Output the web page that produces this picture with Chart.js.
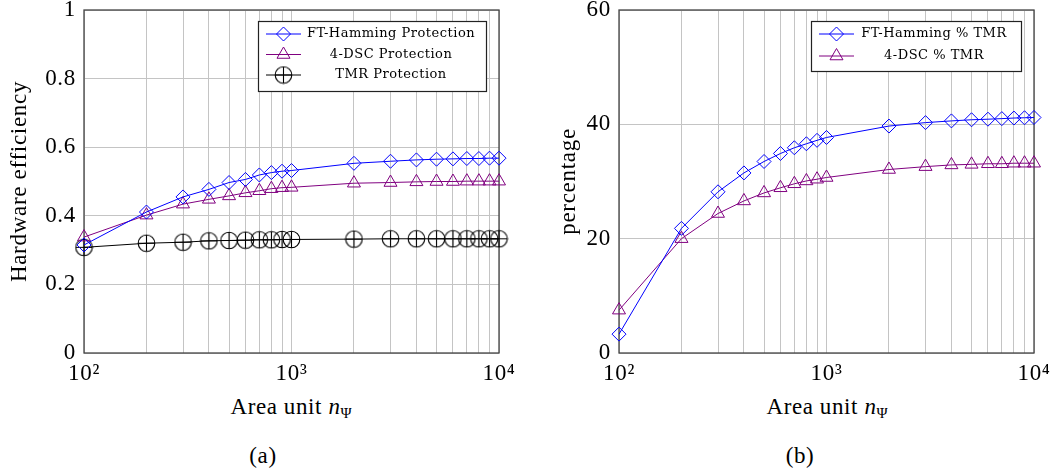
<!DOCTYPE html>
<html>
<head>
<meta charset="utf-8">
<script src="https://cdn.jsdelivr.net/npm/chart.js@4.4.1/dist/chart.umd.min.js"></script>
<style>
  body { margin: 0; background: #fff; width: 1051px; height: 474px; position: relative; overflow: hidden; font-family: "Liberation Serif", serif; }
  canvas { position: absolute; top: 0; }
  #effChart { left: 0; }
  #pctChart { left: 549px; }
  .lbl { position: absolute; font-size: 23px; letter-spacing: 0.6px; transform: translate(-50%, -50%); white-space: nowrap; color: #000; }
  .lbl sub { font-size: 15px; vertical-align: -4px; letter-spacing: 0; }
</style>
</head>
<body>
<canvas id="effChart" width="530" height="385"></canvas>
<canvas id="pctChart" width="502" height="385"></canvas>
<div class="lbl" style="left:291px; top:408px">Area unit <i>n</i><sub>Ψ</sub></div>
<div class="lbl" style="left:827px; top:408px">Area unit <i>n</i><sub>Ψ</sub></div>
<div class="lbl" style="left:263px; top:456px">(a)</div>
<div class="lbl" style="left:800px; top:456px">(b)</div>
<script>
// x values (area unit)
var areaUnits = [100, 200, 300, 400, 500, 600, 700, 800, 900, 1000, 2000, 3000, 4000, 5000, 6000, 7000, 8000, 9000, 10000];
var xTickLabels = { 100: '10\u00B2', 1000: '10\u00B3', 10000: '10\u2074' };

// (a) hardware efficiency
var hammingEff = [0.315, 0.411, 0.455, 0.477, 0.497, 0.506, 0.519, 0.526, 0.530, 0.532, 0.553, 0.559, 0.563, 0.565, 0.566, 0.567, 0.567, 0.568, 0.568];
var dscEff = [0.338, 0.402, 0.434, 0.448, 0.458, 0.467, 0.473, 0.479, 0.482, 0.483, 0.495, 0.497, 0.499, 0.500, 0.500, 0.501, 0.501, 0.501, 0.501];
var tmrEff = [0.308, 0.320, 0.323, 0.327, 0.328, 0.329, 0.330, 0.330, 0.331, 0.331, 0.332, 0.333, 0.333, 0.333, 0.333, 0.333, 0.333, 0.333, 0.333];

// (b) percentage of TMR
var hammingPct = [3.3, 21.8, 28.2, 31.5, 33.5, 34.9, 35.9, 36.6, 37.2, 37.7, 39.7, 40.3, 40.6, 40.8, 40.9, 41.0, 41.1, 41.15, 41.2];
var dscPct = [7.5, 20.0, 24.4, 26.6, 28.0, 28.9, 29.6, 30.1, 30.4, 30.7, 32.1, 32.6, 32.9, 33.0, 33.1, 33.1, 33.2, 33.2, 33.2];

var serif = '"Liberation Serif", serif';

function toPoints(ys) {
    return areaUnits.map(function (x, i) { return { x: x, y: ys[i] }; });
}

// circle with a plus inside (pgfplots "oplus")
var oplus = document.createElement('canvas');
oplus.width = 19; oplus.height = 19;
(function () {
    var c = oplus.getContext('2d');
    c.strokeStyle = '#000';
    c.lineWidth = 1.1;
    c.beginPath(); c.arc(9.5, 9.5, 8.3, 0, Math.PI * 2); c.stroke();
    c.beginPath();
    c.moveTo(9.5, 1.2); c.lineTo(9.5, 17.8);
    c.moveTo(1.2, 9.5); c.lineTo(17.8, 9.5);
    c.stroke();
})();

function series(label, ys, color, style, radius) {
    return {
        label: label,
        data: toPoints(ys),
        borderColor: color,
        backgroundColor: 'rgba(0,0,0,0)',
        borderWidth: 1,
        pointStyle: style,
        pointRadius: radius,
        pointBorderWidth: 1,
        pointBorderColor: color,
        pointBackgroundColor: 'rgba(0,0,0,0)',
        tension: 0,
        clip: false
    };
}

// wider letter spacing, a bit like the TeX fonts
var spacing = {
    id: 'spacing',
    beforeDraw: function (chart) { chart.ctx.letterSpacing = '0.7px'; }
};

// frame round the plot area + boxed legend inside it
var framePlugin = {
    id: 'frame',
    beforeDatasetsDraw: function (chart) {
        var a = chart.chartArea, ctx = chart.ctx;
        ctx.save();
        ctx.strokeStyle = '#444';
        ctx.lineWidth = 1.3;
        ctx.strokeRect(a.left, a.top, a.right - a.left, a.bottom - a.top);
        ctx.restore();
    }
};

var boxLegend = {
    id: 'boxLegend',
    afterDraw: function (chart, args, o) {
        var ctx = chart.ctx;
        ctx.save();
        ctx.fillStyle = '#fff';
        ctx.fillRect(o.x, o.y, o.w, o.h);
        ctx.strokeStyle = '#222';
        ctx.lineWidth = 1.2;
        ctx.strokeRect(o.x + 0.5, o.y + 0.5, o.w, o.h);
        chart.data.datasets.forEach(function (ds, i) {
            var cy = o.y + o.first + i * o.gap;
            var x0 = o.x + 8, x1 = x0 + o.lineLen;
            ctx.strokeStyle = ds.borderColor;
            ctx.lineWidth = 1;
            ctx.beginPath(); ctx.moveTo(x0, cy); ctx.lineTo(x1, cy); ctx.stroke();
            ctx.fillStyle = 'rgba(0,0,0,0)';
            Chart.helpers.drawPoint(ctx, { pointStyle: ds.pointStyle, radius: ds.pointRadius, borderWidth: 1, rotation: 0 }, (x0 + x1) / 2, cy);
            ctx.fillStyle = '#000';
            ctx.font = o.fontSize + 'px "DejaVu Serif", serif';
            ctx.letterSpacing = '0.5px';
            ctx.textAlign = 'center';
            ctx.textBaseline = 'middle';
            ctx.fillText(ds.label, o.textX, cy);
        });
        ctx.restore();
    }
};

function makeChart(id, datasets, yMax, yStep, yTitle, yWidth, padRight, legend) {
    return new Chart(document.getElementById(id), {
        type: 'line',
        data: { datasets: datasets },
        plugins: [spacing, framePlugin, boxLegend],
        options: {
            responsive: false,
            animation: false,
            layout: { padding: { top: 10, right: padRight, left: 0, bottom: 0 } },
            plugins: {
                legend: { display: false },
                tooltip: { enabled: false },
                boxLegend: legend
            },
            scales: {
                x: {
                    type: 'logarithmic',
                    min: 100,
                    max: 10000,
                    afterBuildTicks: function (scale) {
                        scale.ticks = areaUnits.map(function (v) { return { value: v, major: !!xTickLabels[v] }; });
                    },
                    afterFit: function (scale) {
                        scale.height = 32;
                        scale.paddingLeft = 0;
                        scale.paddingRight = 0;
                    },
                    ticks: {
                        autoSkip: false,
                        maxRotation: 0,
                        padding: 9,
                        color: '#000',
                        font: { family: serif, size: 23, lineHeight: 1 },
                        callback: function (v) { return xTickLabels[v] || ''; }
                    },
                    grid: { color: '#c4c4c4', lineWidth: 1, tickLength: 0 },
                    border: { display: false }
                },
                y: {
                    min: 0,
                    max: yMax,
                    afterFit: function (scale) {
                        scale.width = yWidth;
                        scale.paddingTop = 0;
                        scale.paddingBottom = 0;
                    },
                    ticks: {
                        stepSize: yStep,
                        padding: 8,
                        color: '#000',
                        font: { family: serif, size: 23, lineHeight: 1 },
                        callback: function (v) { return String(+v.toFixed(1)); }
                    },
                    title: {
                        display: true,
                        text: yTitle,
                        color: '#000',
                        font: { family: serif, size: 23 },
                        padding: { top: 6, bottom: 0 }
                    },
                    grid: { color: '#c4c4c4', lineWidth: 1, tickLength: 0 },
                    border: { display: false }
                }
            }
        }
    });
}

makeChart('effChart', [
    series('FT-Hamming Protection', hammingEff, '#0000ff', 'rectRot', 7),
    series('4-DSC Protection', dscEff, '#800080', 'triangle', 7.5),
    series('TMR Protection', tmrEff, '#000000', oplus, 9)
], 1, 0.2, 'Hardware efficiency', 84, 31,
    { x: 258, y: 21, w: 228, h: 70, first: 13, gap: 20.5, lineLen: 35, textX: 391, fontSize: 13 });

makeChart('pctChart', [
    series('FT-Hamming % TMR', hammingPct, '#0000ff', 'rectRot', 7),
    series('4-DSC % TMR', dscPct, '#800080', 'triangle', 7.5)
], 60, 20, 'percentage', 70, 17,
    { x: 811 - 549, y: 21, w: 210, h: 50, first: 13, gap: 22, lineLen: 35, textX: 934 - 549, fontSize: 13 });
</script>
</body>
</html>
